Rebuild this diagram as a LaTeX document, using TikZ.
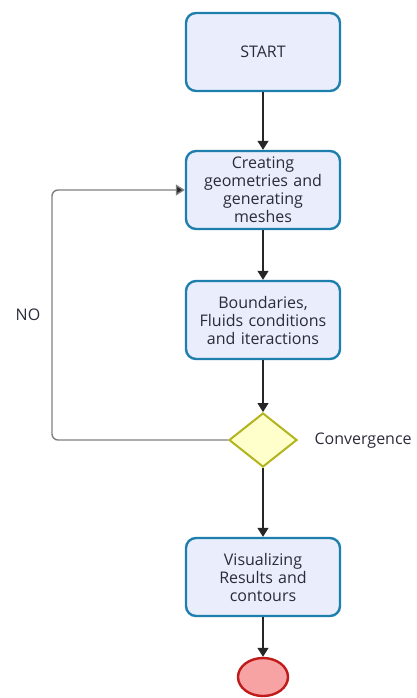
\documentclass[tikz,border=0pt]{standalone}
\usepackage{fontspec}
\setmainfont{Open Sans}
\usepackage{tikz}
\usetikzlibrary{shapes.geometric,arrows.meta}
\definecolor{boxfill}{HTML}{E9EDFC}
\definecolor{boxline}{HTML}{1E7FAD}
\definecolor{decfill}{HTML}{FFFFCC}
\definecolor{decline}{HTML}{B3B31E}
\definecolor{endfill}{HTML}{F7A3A3}
\definecolor{endline}{HTML}{C11A1A}
\definecolor{txt}{HTML}{2B2B3A}
\tikzset{
  task/.style={draw=boxline, fill=boxfill, line width=2.4pt, rounded corners=10pt,
    minimum width=154pt, minimum height=78pt, align=center, text width=146pt,
    font=\fontsize{16pt}{18pt}\selectfont, text=txt},
  gate/.style={diamond, draw=decline, fill=decfill, line width=2pt, aspect=1.3,
    minimum width=68pt, minimum height=54pt, inner sep=0pt},
  stopnode/.style={ellipse, draw=endline, fill=endfill, line width=2.4pt,
    minimum width=50pt, minimum height=38pt},
  flow/.style={line width=1.4pt, draw=black!85, -{Triangle[width=11pt,length=9pt]}},
  back/.style={line width=1.4pt, draw=black!50, rounded corners=6pt, -{Triangle[width=11pt,length=9pt,fill=black!85]}},
  lbl/.style={font=\fontsize{16pt}{18pt}\selectfont, text=txt},
}
\begin{document}
\begin{tikzpicture}[x=1pt,y=1pt]
  \useasboundingbox (0,0) rectangle (416,-698);
  \node[task] (start) at (263,-52) {START};
  \node[task] (geom) at (263,-190) {Creating\\geometries and\\generating\\meshes};
  \node[task] (bound) at (263,-320) {Boundaries,\\Fluids conditions\\and iteractions};
  \node[gate] (conv) at (263,-440) {};
  \node[task] (visu) at (263,-577) {Visualizing\\Results and\\contours};
  \node[stopnode] (stop) at (263,-677) {};
  \node[lbl, anchor=west] (convlbl) at (311,-441) {Convergence};
  \node[lbl] (nolbl) at (28,-315) {NO};
  \coordinate (lb) at (52,-440);
  \coordinate (lt) at (52,-190);
  \draw[flow] (start) -- (geom);
  \draw[flow] (geom) -- (bound);
  \draw[flow] (bound) -- (conv);
  \draw[flow] (conv) -- (visu);
  \draw[flow] (visu) -- (stop);
  \draw[back] (conv.west) -- (lb) -- (lt) -- (geom.west);
\end{tikzpicture}
\end{document}
